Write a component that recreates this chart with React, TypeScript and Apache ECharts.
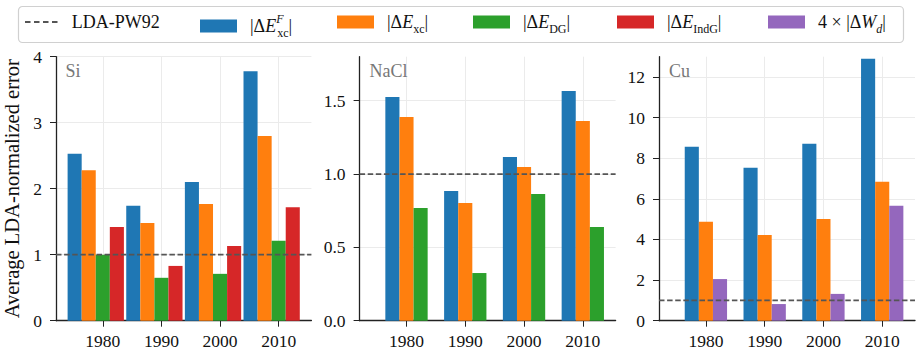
import React, { useEffect, useRef } from "react";
import * as echarts from "echarts";

// ---------- data ----------
const years = [1980, 1990, 2000, 2010];
const xTickYears = [1980, 1990, 2000, 2010];

const siExcF = [2.53, 1.74, 2.1, 3.78];
const siExc = [2.28, 1.48, 1.77, 2.8];
const siEDG = [1.0, 0.65, 0.71, 1.21];
const siEIndG = [1.42, 0.83, 1.13, 1.72];

const naclExcF = [1.525, 0.884, 1.116, 1.566];
const naclExc = [1.389, 0.802, 1.048, 1.361];
const naclEDG = [0.768, 0.325, 0.864, 0.639];

const cuExcF = [8.56, 7.53, 8.71, 12.9];
const cuExc = [4.87, 4.22, 5.01, 6.84];
const cuWd4 = [2.05, 0.82, 1.32, 5.66];

const siTicks = [0, 1, 2, 3, 4];
const naclTicks = [0, 0.5, 1.0, 1.5];
const cuTicks = [0, 2, 4, 6, 8, 10, 12];

const ldaLevel = 1;

// ---------- names / styles ----------
const N_LDA = "LDA-PW92";
const N_F = "|ΔE^F_xc|";
const N_XC = "|ΔE_xc|";
const N_DG = "|ΔE_DG|";
const N_IND = "|ΔE_IndG|";
const N_WD = "4 × |ΔW_d|";

const C_BLUE = "#1f77b4";
const C_ORANGE = "#ff7f0e";
const C_GREEN = "#2ca02c";
const C_RED = "#d62728";
const C_PURPLE = "#9467bd";
const C_LDA = "#555555";

const FONT = "'Liberation Serif', 'Times New Roman', serif";
const BAR_W = 2.4; // years
const X_MIN = 1972.02;
const X_MAX = 2015.58;

const legendRich: Record<string, string> = {
  [N_LDA]: "{n|LDA-PW92}",
  [N_F]: "{n||Δ}{i|E}{sup|F}{sub|xc}{n||}",
  [N_XC]: "{n||Δ}{i|E}{sub|xc}{n||}",
  [N_DG]: "{n||Δ}{i|E}{sub|DG}{n||}",
  [N_IND]: "{n||Δ}{i|E}{sub|IndG}{n||}",
  [N_WD]: "{n|4 × |Δ}{i|W}{subi|d}{n||}",
};

export default function App() {
  const ref = useRef<HTMLDivElement>(null);

  useEffect(() => {
    if (!ref.current) return;
    const chart = echarts.init(ref.current, undefined, { renderer: "svg" });

    const panels = [
      {
        label: "Si",
        left: 55.4,
        yMax: 4,
        ticks: siTicks,
        fmt: (v: number) => String(v),
        bars: [
          [N_F, siExcF, C_BLUE],
          [N_XC, siExc, C_ORANGE],
          [N_DG, siEDG, C_GREEN],
          [N_IND, siEIndG, C_RED],
        ],
      },
      {
        label: "NaCl",
        left: 359.6,
        yMax: 1.8,
        ticks: naclTicks,
        fmt: (v: number) => v.toFixed(1),
        bars: [
          [N_F, naclExcF, C_BLUE],
          [N_XC, naclExc, C_ORANGE],
          [N_DG, naclEDG, C_GREEN],
        ],
      },
      {
        label: "Cu",
        left: 659,
        yMax: 13,
        ticks: cuTicks,
        fmt: (v: number) => String(v),
        bars: [
          [N_F, cuExcF, C_BLUE],
          [N_XC, cuExc, C_ORANGE],
          [N_WD, cuWd4, C_PURPLE],
        ],
      },
    ] as const;

    const gridTop = 56.7;
    const gridH = 264;
    const gridW = 256;

    const axisLineStyle = { color: "#222", width: 1.3 };
    const tickLabel = { fontFamily: FONT, fontSize: 17.5, color: "#111" };

    const grids: any[] = [];
    const xAxes: any[] = [];
    const yAxes: any[] = [];
    const series: any[] = [];
    const titles: any[] = [];

    panels.forEach((p, gi) => {
      grids.push({ left: p.left, top: gridTop, width: gridW, height: gridH, containLabel: false });
      xAxes.push({
        type: "value",
        gridIndex: gi,
        min: X_MIN,
        max: X_MAX,
        axisLine: { show: true, lineStyle: axisLineStyle },
        axisTick: { show: true, length: 6, customValues: xTickYears, lineStyle: { color: "#222", width: 1 } },
        axisLabel: { customValues: xTickYears, margin: 11, ...tickLabel, formatter: (v: number) => String(v) },
        splitLine: { show: true, lineStyle: { color: "#ebebeb", width: 1 } },
      });
      yAxes.push({
        type: "value",
        gridIndex: gi,
        min: 0,
        max: p.yMax,
        axisLine: { show: true, lineStyle: axisLineStyle },
        axisTick: { show: true, length: 6, customValues: p.ticks as any, lineStyle: { color: "#222", width: 1 } },
        axisLabel: { customValues: p.ticks as any, margin: 14, ...tickLabel, formatter: p.fmt },
        splitLine: { show: true, lineStyle: { color: "#ebebeb", width: 1 } },
        ...(gi === 0
          ? {
              name: "Average LDA-normalized error",
              nameLocation: "middle",
              nameGap: 34,
              nameTextStyle: { fontFamily: FONT, fontSize: 20.5, color: "#111" },
            }
          : {}),
      });
      const n = p.bars.length;
      const shift = ((n - 1) / 2 - Math.floor(n / 2)) * BAR_W;
      p.bars.forEach(([name, vals, color]) => {
        series.push({
          type: "bar",
          name,
          xAxisIndex: gi,
          yAxisIndex: gi,
          barWidth: "24%",
          barGap: "0%",
          itemStyle: { color },
          data: years.map((y, i) => [y + shift, (vals as number[])[i]]),
        });
      });
      series.push({
        type: "line",
        name: N_LDA,
        xAxisIndex: gi,
        yAxisIndex: gi,
        symbol: "none",
        z: 5,
        lineStyle: { color: C_LDA, width: 1.7, type: [5.5, 2.6] },
        itemStyle: { color: C_LDA },
        data: [
          [X_MIN, ldaLevel],
          [X_MAX, ldaLevel],
        ],
      });
      titles.push({
        text: p.label,
        left: p.left + 10,
        top: 62,
        padding: 0,
        textStyle: { fontFamily: FONT, fontSize: 18, fontWeight: "normal", color: "#777" },
      });
    });

    const rich = {
      n: { fontFamily: FONT, fontSize: 18, lineHeight: 26, color: "#111" },
      i: { fontFamily: FONT, fontSize: 18, lineHeight: 26, color: "#111", fontStyle: "italic" },
      sub: { fontFamily: FONT, fontSize: 12, lineHeight: 14, color: "#111", verticalAlign: "bottom" },
      subi: { fontFamily: FONT, fontSize: 12, lineHeight: 14, color: "#111", verticalAlign: "bottom", fontStyle: "italic" },
      sup: { fontFamily: FONT, fontSize: 12, lineHeight: 20, color: "#111", verticalAlign: "top", width: 1, fontStyle: "italic" },
    };

    const legendItems = [
      { name: N_LDA, left: 25, w: 35, h: 2, icon: "path://M0,0H5.5V2H0Z M9,0H14.5V2H9Z M18,0H23.5V2H18Z M27,0H32.5V2H27Z" },
      { name: N_F, left: 200, w: 37, h: 13, icon: "rect" },
      { name: N_XC, left: 337, w: 37, h: 13, icon: "rect" },
      { name: N_DG, left: 473, w: 37, h: 13, icon: "rect" },
      { name: N_IND, left: 617, w: 37, h: 13, icon: "rect" },
      { name: N_WD, left: 768, w: 37, h: 13, icon: "rect" },
    ];

    const legends = legendItems.map((it) => ({
      left: it.left,
      top: 13,
      padding: 0,
      itemWidth: it.w,
      itemHeight: it.h,
      selectedMode: true,
      data: [{ name: it.name, icon: it.icon }],
      formatter: (name: string) => legendRich[name] || name,
      textStyle: { fontFamily: FONT, fontSize: 18, color: "#111", padding: [0, 0, 0, 8], rich },
    }));

    chart.setOption({
      animation: false,
      backgroundColor: "#ffffff",
      title: titles,
      legend: legends,
      graphic: [
        {
          type: "rect",
          z: 0,
          shape: { x: 18.5, y: 6.5, width: 885, height: 36, r: 4 },
          style: { fill: "#ffffff", stroke: "#d0d0d0", lineWidth: 1.2 },
        },
      ],
      grid: grids,
      xAxis: xAxes,
      yAxis: yAxes,
      series,
    });

    return () => chart.dispose();
  }, []);

  return <div ref={ref} style={{ width: 922, height: 354, position: "absolute", left: 0, top: 0 }} />;
}
